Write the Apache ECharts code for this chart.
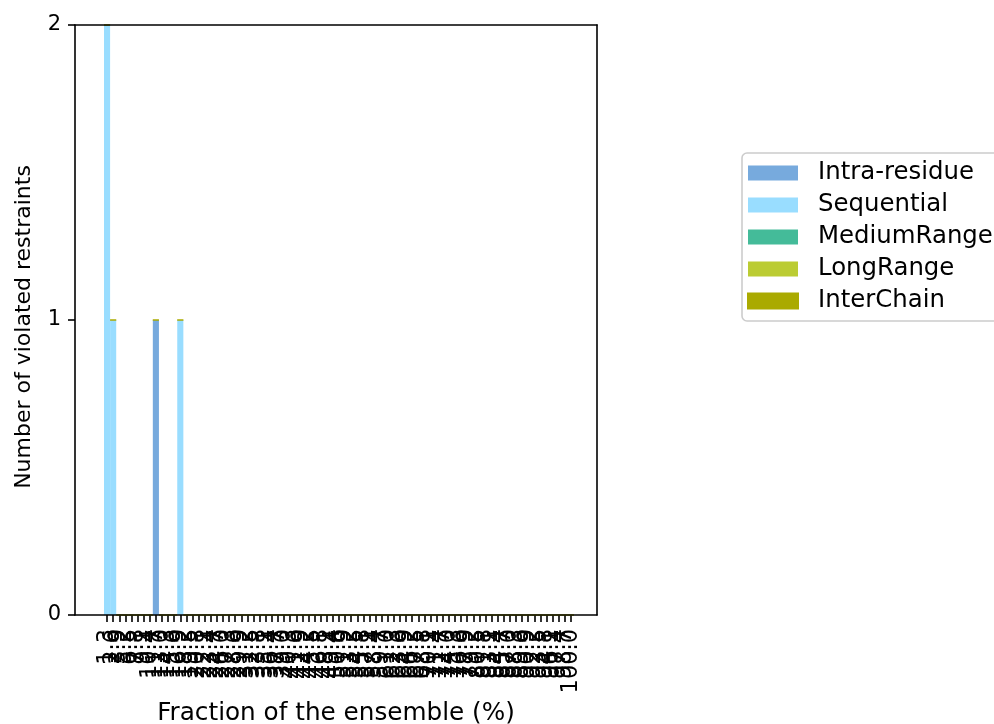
<!DOCTYPE html>
<html>
<head>
<meta charset="utf-8">
<script src="https://cdn.jsdelivr.net/npm/echarts@6/dist/echarts.min.js"></script>
<style>
html,body{margin:0;padding:0;background:#fff;}
#chart{width:994px;height:724px;}
</style>
</head>
<body>
<div id="chart"></div>
<script>
// Tick labels: fraction of the ensemble (%)
const categories = ["1.3","2.6","3.9","5.2","6.5","7.8","9.1","10.4","11.7","13.0","14.3","15.6","16.9","18.2","19.5","20.8","22.1","23.4","24.7","26.0","27.3","28.6","29.9","31.2","32.5","33.8","35.1","36.4","37.7","39.0","40.3","41.6","42.9","44.2","45.5","46.8","48.1","49.4","50.6","51.9","53.2","54.5","55.8","57.1","58.4","59.7","61.0","62.3","63.6","64.9","66.2","67.5","68.8","70.1","71.4","72.7","74.0","75.3","76.6","77.9","79.2","80.5","81.8","83.1","84.4","85.7","87.0","88.3","89.6","90.9","92.2","93.5","94.8","96.1","97.4","98.7","100.0"];

const intraResidue = [0,0,0,0,0,0,0,0,1,0,0,0,0,0,0,0,0,0,0,0,0,0,0,0,0,0,0,0,0,0,0,0,0,0,0,0,0,0,0,0,0,0,0,0,0,0,0,0,0,0,0,0,0,0,0,0,0,0,0,0,0,0,0,0,0,0,0,0,0,0,0,0,0,0,0,0,0];
const sequential   = [2,1,0,0,0,0,0,0,0,0,0,0,1,0,0,0,0,0,0,0,0,0,0,0,0,0,0,0,0,0,0,0,0,0,0,0,0,0,0,0,0,0,0,0,0,0,0,0,0,0,0,0,0,0,0,0,0,0,0,0,0,0,0,0,0,0,0,0,0,0,0,0,0,0,0,0,0];
const mediumRange  = [0,0,0,0,0,0,0,0,0,0,0,0,0,0,0,0,0,0,0,0,0,0,0,0,0,0,0,0,0,0,0,0,0,0,0,0,0,0,0,0,0,0,0,0,0,0,0,0,0,0,0,0,0,0,0,0,0,0,0,0,0,0,0,0,0,0,0,0,0,0,0,0,0,0,0,0,0];
const longRange    = [0,0,0,0,0,0,0,0,0,0,0,0,0,0,0,0,0,0,0,0,0,0,0,0,0,0,0,0,0,0,0,0,0,0,0,0,0,0,0,0,0,0,0,0,0,0,0,0,0,0,0,0,0,0,0,0,0,0,0,0,0,0,0,0,0,0,0,0,0,0,0,0,0,0,0,0,0];
const interChain   = [0,0,0,0,0,0,0,0,0,0,0,0,0,0,0,0,0,0,0,0,0,0,0,0,0,0,0,0,0,0,0,0,0,0,0,0,0,0,0,0,0,0,0,0,0,0,0,0,0,0,0,0,0,0,0,0,0,0,0,0,0,0,0,0,0,0,0,0,0,0,0,0,0,0,0,0,0];

const seriesNames = ["Intra-residue","Sequential","MediumRange","LongRange","InterChain"];
const seriesColors = ["#77AADD","#99DDFF","#44BB99","#BBCC33","#AAAA00"];
const seriesData = [intraResidue, sequential, mediumRange, longRange, interChain];
const yTicks = [0, 1, 2];

const FONT = "DejaVu Sans";
const chart = echarts.init(document.getElementById('chart'), null, {renderer: 'canvas'});

const frameLine = {show: true, onZero: false, lineStyle: {color: '#000', width: 1.6}};

const option = {
  animation: false,
  backgroundColor: '#fff',
  textStyle: {fontFamily: FONT},
  grid: [
    {left: 75, top: 25, width: 522, height: 590, containLabel: false, outerBoundsMode: 'none'},
    {left: 104, top: 25, width: 470, height: 590, containLabel: false, outerBoundsMode: 'none'}
  ],
  xAxis: [
    {gridIndex: 0, type: 'value', min: 0, max: 1, position: 'bottom', z: 10,
     axisLine: frameLine, axisTick: {show: false}, axisLabel: {show: false}, splitLine: {show: false},
     name: 'Fraction of the ensemble (%)', nameLocation: 'middle', nameGap: 86,
     nameTextStyle: {fontFamily: FONT, fontSize: 24.7, color: '#000'}},
    {gridIndex: 0, type: 'value', min: 0, max: 1, position: 'top', z: 10,
     axisLine: frameLine, axisTick: {show: false}, axisLabel: {show: false}, splitLine: {show: false}},
    {gridIndex: 1, type: 'category', data: categories, position: 'bottom',
     axisLine: {show: false},
     axisTick: {show: true, alignWithLabel: true, interval: 0, length: 7, lineStyle: {color: '#000', width: 1.6}},
     axisLabel: {show: true, interval: 0, rotate: 90, margin: 14, fontFamily: FONT, fontSize: 22.5, color: '#000'},
     splitLine: {show: false}}
  ],
  yAxis: [
    {gridIndex: 0, type: 'value', min: 0, max: 2, interval: 1, position: 'left', z: 10,
     axisLine: frameLine,
     axisTick: {show: true, length: 7, lineStyle: {color: '#000', width: 1.6}},
     axisLabel: {show: true, margin: 14, fontFamily: FONT, fontSize: 21, color: '#000',
                 formatter: v => yTicks.includes(v) ? String(v) : ''},
     splitLine: {show: false},
     name: 'Number of violated restraints', nameLocation: 'middle', nameGap: 40,
     nameTextStyle: {fontFamily: FONT, fontSize: 22, color: '#000', padding: [0, 14, 0, 0]}},
    {gridIndex: 0, type: 'value', min: 0, max: 2, interval: 1, position: 'right', z: 10,
     axisLine: frameLine, axisTick: {show: false}, axisLabel: {show: false}, splitLine: {show: false}},
    {gridIndex: 1, type: 'value', min: 0, max: 2, interval: 1, show: false, splitLine: {show: false}}
  ],
  legend: {
    orient: 'vertical', left: 742, top: 153,
    icon: 'rect', itemWidth: 50, itemHeight: 15, itemGap: 8,
    padding: [8, 12, 8, 5],
    backgroundColor: 'rgba(255,255,255,0.8)',
    borderColor: '#cccccc', borderWidth: 1.6, borderRadius: 5,
    textStyle: {fontFamily: FONT, fontSize: 24.4, color: '#000', padding: [0, 0, 0, 15]},
    data: seriesNames
  },
  series: seriesNames.map((name, i) => ({
    name: name, type: 'bar', stack: 'total', xAxisIndex: 2, yAxisIndex: 2,
    barCategoryGap: '0%',
    itemStyle: i === 4 ? {color: seriesColors[i], borderColor: seriesColors[i], borderWidth: 1}
                       : {color: seriesColors[i]},
    data: seriesData[i]
  }))
};
chart.setOption(option);
</script>
</body>
</html>
